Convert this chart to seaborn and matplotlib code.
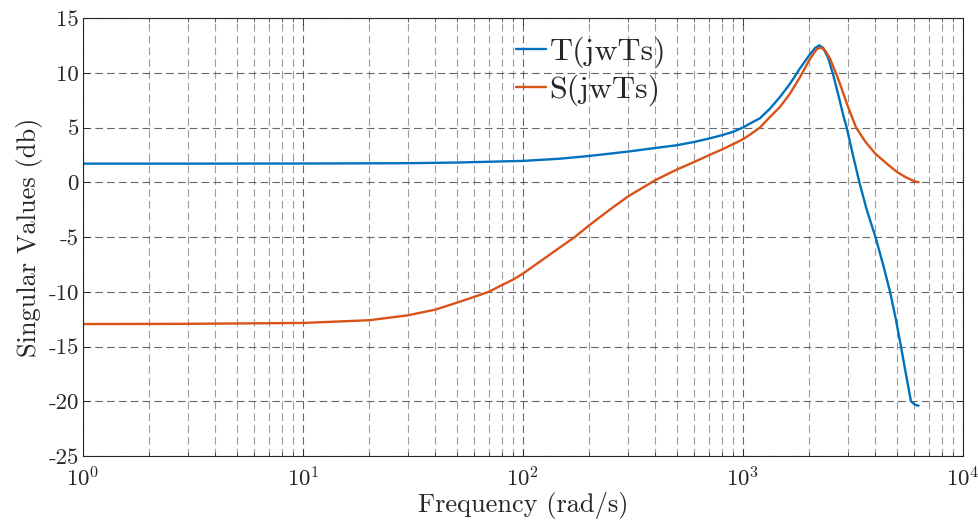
import numpy as np
import pandas as pd
import matplotlib
matplotlib.use("Agg")
import matplotlib.pyplot as plt
import seaborn as sns
from matplotlib.ticker import FixedLocator, FixedFormatter, LogLocator, LogFormatterMathtext, NullFormatter

# ---- data ----
T_w = [1, 3, 10, 30, 50, 100, 147, 200, 300, 400, 500, 600, 700, 800, 900, 1000,
       1076, 1195, 1327, 1473, 1636, 1816, 2000, 2125, 2225, 2317, 2443, 2573, 2710,
       2857, 2960, 3150, 3380, 3650, 4000, 4330, 4660, 4950, 5225, 5500, 5800, 5950,
       6100, 6283]
T_db = [1.70, 1.70, 1.71, 1.74, 1.80, 1.95, 2.15, 2.4, 2.8, 3.13, 3.38, 3.68, 3.99,
        4.29, 4.6, 5.0, 5.36, 5.85, 6.73, 7.79, 9.0, 10.4, 11.6, 12.26, 12.5, 12.26,
        11.3, 9.77, 8.0, 6.1, 5.0, 2.6, 0.0, -2.5, -5.0, -7.5, -10.0, -12.5, -15.0,
        -17.5, -20.0, -20.2, -20.35, -20.4]

S_w = [1, 3, 10, 20, 30, 40, 50, 60, 70, 80, 90, 100, 147, 172, 200, 248, 300, 400,
       500, 600, 700, 800, 900, 1000, 1076, 1195, 1327, 1473, 1636, 1816, 2000, 2160,
       2263, 2360, 2485, 2665, 2757, 3000, 3265, 3600, 4000, 4500, 5000, 5500, 6000,
       6283]
S_db = [-12.95, -12.93, -12.85, -12.6, -12.15, -11.63, -11.0, -10.47, -10.0, -9.4,
        -8.9, -8.34, -5.96, -5.0, -3.93, -2.5, -1.3, 0.2, 1.16, 1.85, 2.47, 2.98, 3.47,
        3.93, 4.35, 5.0, 5.97, 6.88, 8.1, 9.6, 11.15, 12.15, 12.3, 12.05, 11.3, 9.8,
        9.0, 6.9, 5.0, 3.7, 2.6, 1.7, 0.95, 0.45, 0.1, 0.0]

series_names = ["T(jwTs)", "S(jwTs)"]
series_colors = ["#0072BD", "#D95319"]

y_ticks = [-25, -20, -15, -10, -5, 0, 5, 10, 15]
y_tick_labels = ["-25", "-20", "-15", "-10", "-5", "0", "5", "10", "15"]
x_label = "Frequency (rad/s)"
y_label = "Singular Values (db)"

df = pd.concat([
    pd.DataFrame({"w": T_w, "db": T_db, "series": series_names[0]}),
    pd.DataFrame({"w": S_w, "db": S_db, "series": series_names[1]}),
], ignore_index=True)

# ---- style ----
sns.set_style("ticks")
plt.rcParams["font.family"] = ["cmr10", "DejaVu Serif"]
plt.rcParams["mathtext.fontset"] = "cm"
plt.rcParams["axes.formatter.use_mathtext"] = True
plt.rcParams["lines.scale_dashes"] = False

fig = plt.figure(figsize=(9.79, 5.21), dpi=100)
ax = fig.add_axes([83/979, 1-456/521, (963-83)/979, (456-18)/521])

sns.lineplot(data=df, x="w", y="db", hue="series", hue_order=series_names,
             palette=series_colors, estimator=None, sort=True, linewidth=1.7,
             legend=False, ax=ax)
for ln in ax.get_lines():
    ln.set_solid_joinstyle("round")
    ln.set_solid_capstyle("round")

ax.set_xscale("log")
ax.set_xlim(1, 1e4)
ax.set_ylim(-25, 15)

ax.xaxis.set_major_locator(LogLocator(base=10, numticks=10))
ax.xaxis.set_major_formatter(LogFormatterMathtext())
ax.xaxis.set_minor_locator(LogLocator(base=10, subs=np.arange(2, 10), numticks=100))
ax.xaxis.set_minor_formatter(NullFormatter())
ax.yaxis.set_major_locator(FixedLocator(y_ticks))
ax.yaxis.set_major_formatter(FixedFormatter(y_tick_labels))

ax.grid(True, which="major", axis="both", color="#4d4d4d", linestyle=(0, (5.5, 3.0)),
        linewidth=0.8, alpha=0.85)
ax.grid(True, which="minor", axis="x", color="#8c8c8c", linestyle=(0, (5.5, 3.0)),
        linewidth=0.8, alpha=0.85)

ax.tick_params(which="both", direction="in", top=True, right=True, colors="#262626",
               labelcolor="#262626")
ax.tick_params(which="major", length=5, width=0.6, labelsize=16.5)
ax.tick_params(axis="y", which="major", pad=3)
ax.tick_params(axis="x", which="major", pad=7)
ax.tick_params(which="minor", length=3, width=0.5)
for s in ax.spines.values():
    s.set_linewidth(0.8)
    s.set_color("#262626")

ax.set_xlabel(x_label, fontsize=19, color="#262626", labelpad=1)
ax.set_ylabel(y_label, fontsize=19, color="#262626", labelpad=4)

lines = ax.get_lines()
leg = ax.legend(lines[:2], series_names, loc="upper left",
                bbox_to_anchor=(516/979, 1-37/521), bbox_transform=fig.transFigure,
                frameon=False, fontsize=23, handlelength=0.95, handletextpad=0.1,
                labelspacing=0.2, borderpad=0, borderaxespad=0)
for t in leg.get_texts():
    t.set_color("#262626")

fig.savefig("out.png", dpi=100)
